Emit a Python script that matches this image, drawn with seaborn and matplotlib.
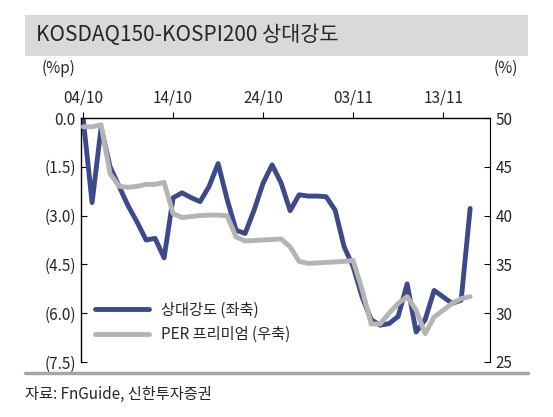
import matplotlib
matplotlib.use("Agg")
import matplotlib.pyplot as plt
import seaborn as sns
import numpy as np
import pandas as pd
from matplotlib.lines import Line2D

sns.set_style("white")
plt.rcParams['font.family'] = ['Noto Sans CJK KR', 'DejaVu Sans']

days = list(range(44))
tick_pos = [0, 10, 20, 30, 40]
tick_labels = ["04/10", "14/10", "24/10", "03/11", "13/11"]
strength = [0.0, 2.6, 0.3, 1.5, 2.1, 2.7, 3.2, 3.75, 3.7, 4.3, 2.45, 2.3, 2.45, 2.57,
            2.1, 1.4, 2.5, 3.45, 3.55, 2.83, 2.0, 1.44, 2.0, 2.85, 2.36, 2.4, 2.4, 2.42,
            2.83, 3.96, 4.57, 5.5, 6.2, 6.37, 6.32, 6.1, 5.1, 6.58, 6.2, 5.3, 5.5, 5.7, 5.6, 2.78]
per = [49.1, 49.1, 49.3, 44.3, 43.0, 42.9, 43.0, 43.2, 43.2, 43.4, 40.2, 39.8, 39.9, 40.0,
       40.05, 40.05, 40.0, 37.8, 37.4, 37.45, 37.5, 37.55, 37.6, 36.8, 35.3, 35.1, 35.15,
       35.2, 35.25, 35.3, 35.4, 32.4, 28.9, 28.9, 30.0, 31.0, 31.7, 30.3, 27.9, 29.6,
       30.3, 31.0, 31.5, 31.7]

df = pd.DataFrame({"day": days, "s": strength, "p": per})
blue = "#3c4a8c"
gray = "#b4b4b4"

fig = plt.figure(figsize=(5.53, 4.17), dpi=100)
ax = fig.add_axes([0.147, 0.132, 0.739, 0.585])
ax2 = ax.twinx()
sns.lineplot(data=df, x="day", y="s", ax=ax, color=blue, lw=3.5, solid_joinstyle="round")
sns.lineplot(data=df, x="day", y="p", ax=ax2, color=gray, lw=3.5, solid_joinstyle="round")

ax.set_ylim(7.5, 0)
ax.set_xlim(-0.2, 45.2)
yt = [0, 1.5, 3.0, 4.5, 6.0, 7.5]
ax.set_yticks(yt)
ax.set_yticklabels(["0.0", "(1.5)", "(3.0)", "(4.5)", "(6.0)", "(7.5)"], fontsize=11)
ax2.set_ylim(25, 50)
ax2.set_yticks([25, 30, 35, 40, 45, 50])
ax2.set_yticklabels(["25", "30", "35", "40", "45", "50"], fontsize=11)
ax.set_xticks(tick_pos)
ax.set_xticklabels(tick_labels, fontsize=11)
ax.xaxis.tick_top()
for a in (ax, ax2):
    a.set_xlabel(""); a.set_ylabel("")
    for sp in a.spines.values():
        sp.set_visible(False)
ax.spines['left'].set_visible(True)
ax.spines['top'].set_visible(True)
ax2.spines['right'].set_visible(True)
for sp in ("left", "top"):
    ax.spines[sp].set_color("black"); ax.spines[sp].set_linewidth(1)
ax2.spines['right'].set_color("black")
ax.tick_params(axis="both", direction="in", length=4, color="black", pad=4)
ax.tick_params(axis="x", direction="out", length=4)
ax2.tick_params(axis="y", direction="in", length=4, color="black", pad=4)

handles = [Line2D([], [], color=blue, lw=3.5), Line2D([], [], color=gray, lw=3.5)]
ax.legend(handles, ["상대강도 (좌축)", "PER 프리미엄 (우축)"], loc="lower left",
          bbox_to_anchor=(0.0, 0.02), frameon=False, fontsize=11, handlelength=3.5)

fig.text(0.105, 0.825, "(%p)", fontsize=11, ha="center")
fig.text(0.915, 0.825, "(%)", fontsize=11, ha="center")

fig.patches.append(plt.Rectangle((0.045, 0.865), 0.91, 0.1, transform=fig.transFigure,
                                 facecolor="#d9d9d9", edgecolor="none"))
fig.text(0.065, 0.915, "KOSDAQ150-KOSPI200 상대강도", fontsize=15, fontweight="medium",
         va="center")
fig.add_artist(Line2D([0.045, 0.955], [0.105, 0.105], color="#a6a6a6", lw=2.5,
                      transform=fig.transFigure))
fig.text(0.045, 0.055, "자료: FnGuide, 신한투자증권", fontsize=11, va="center")

fig.savefig("out.png", dpi=100)
